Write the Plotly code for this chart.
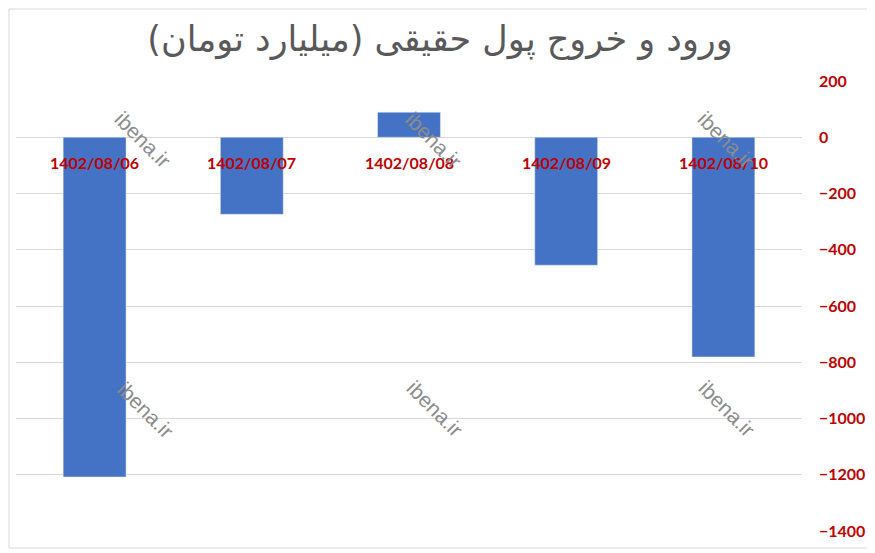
import plotly.graph_objects as go

categories = ["1402/08/06", "1402/08/07", "1402/08/08", "1402/08/09", "1402/08/10"]
values = [-1208, -274, 89, -455, -781]
tick_vals = [200, 0, -200, -400, -600, -800, -1000, -1200, -1400]
title_text = "ورود و خروج پول حقیقی (میلیارد تومان)"
watermark = "ibena.ir"

# page body adds an 8px offset; compensate
OFF = 8
W, H = 875 - OFF, 553 - OFF
L, R, T, B = 8, 73, 73, 22
pw, ph = W - L - R, H - T - B

def px(x):  # window pixel -> paper
    return (x - OFF - L) / pw

def py(y):
    return (H - B - (y - OFF)) / ph

fig = go.Figure()
fig.add_trace(go.Bar(
    x=categories, y=values, marker_color="#4472C4", width=0.4,
    hoverinfo="x+y",
))

red = "#C00000"
for c in categories:
    fig.add_annotation(x=c, y=0, xref="x", yref="y", text=c, showarrow=False,
                       yanchor="middle", yshift=-25,
                       font=dict(family="Lato", size=16, color=red, weight="bold"))

wm_pos = [(143, 139), (433, 140), (726, 139), (145, 410), (435, 408), (727, 408)]
for (x, y) in wm_pos:
    fig.add_annotation(x=px(x), y=py(y), xref="paper", yref="paper", text=watermark,
                       showarrow=False, textangle=45, xanchor="center", yanchor="middle",
                       font=dict(family="Liberation Sans", size=21, color="#8C8C8C"))

fig.add_shape(type="rect", xref="paper", yref="paper",
              x0=px(9), x1=px(868), y0=py(548), y1=py(9),
              line=dict(color="#D9D9D9", width=1))

fig.update_layout(
    width=W, height=H,
    margin=dict(l=L, r=R, t=T, b=B),
    paper_bgcolor="white", plot_bgcolor="white",
    showlegend=False,
    title=dict(text=title_text, x=(440 - OFF) / W, xanchor="center",
               y=1 - (39 - OFF) / H, yanchor="middle",
               font=dict(family="DejaVu Sans", size=35, color="#595959")),
    xaxis=dict(showticklabels=False, showgrid=False, zeroline=False, showline=False,
               ticks=""),
    yaxis=dict(side="right", range=[-1400, 200], tickvals=tick_vals,
               showgrid=True, gridcolor="#D9D9D9", gridwidth=1, zeroline=False,
               showline=False, ticks="", ticklabelstandoff=16,
               tickfont=dict(family="Lato", size=16, color=red, weight="bold")),
)

fig.write_html("out.html")
